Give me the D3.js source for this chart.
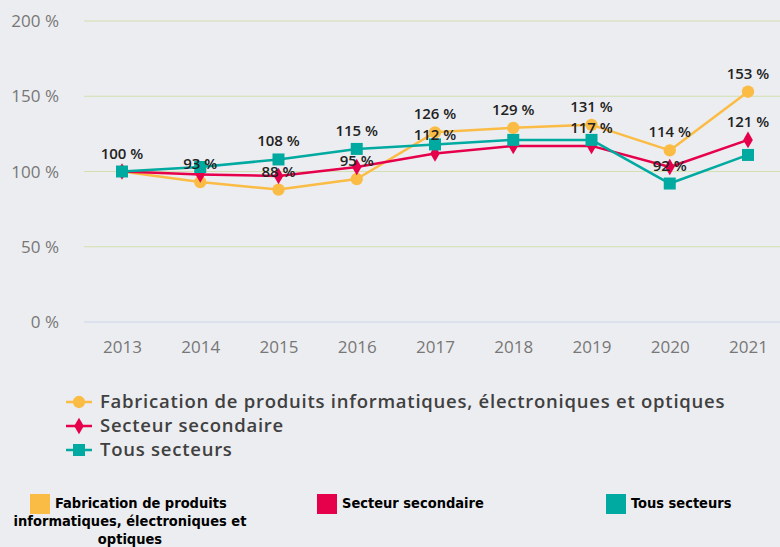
<!DOCTYPE html>
<html><head><meta charset="utf-8">
<script src="https://cdn.jsdelivr.net/npm/d3@7"></script>
<style>
html,body{margin:0;padding:0;background:#ecedf0;}
svg{display:block;}
</style></head>
<body>
<svg id="chart" width="780" height="547"></svg>
<script>
const years = ["2013","2014","2015","2016","2017","2018","2019","2020","2021"];
const seriesNames = ["Fabrication de produits informatiques, électroniques et optiques","Secteur secondaire","Tous secteurs"];
const fabrication = [100, 93, 88, 95, 126, 129, 131, 114, 153];
const secondaire  = [100, 98, 97, 103, 112, 117, 117, 103, 121];
const tous        = [100, 103, 108, 115, 118, 121, 121, 92, 111];
// data labels shown in the reference (null = hidden)
const fabricationLabels = [null, 93, 88, 95, 126, 129, 131, 114, 153];
const secondaireLabels  = [null, null, null, null, 112, null, 117, null, 121];
const tousLabels        = [100, null, 108, 115, null, null, null, 92, null];
const yTicks = [0, 50, 100, 150, 200];
const colors = ["#fbbc45", "#e6004c", "#00aaa1"];

const svg = d3.select("#chart");
const x = d3.scalePoint().domain(years).range([122, 748]);
const y = d3.scaleLinear().domain([0, 200]).range([322, 21]);

// grid
svg.append("g").selectAll("line").data(yTicks).join("line")
  .attr("x1", 84).attr("x2", 780)
  .attr("y1", d => y(d)).attr("y2", d => y(d))
  .attr("stroke", d => d === 0 ? "#ccd6eb" : "#d2e0b0").attr("stroke-width", 1.2);

// y labels
svg.append("g").selectAll("text").data(yTicks).join("text")
  .attr("x", 59).attr("y", d => y(d) + 6)
  .attr("text-anchor", "end")
  .attr("font-family", "Open Sans, sans-serif").attr("font-size", 17)
  .attr("fill", "#777")
  .text(d => d + " %");

// x axis labels
const xAxis = d3.axisBottom(x).tickSize(0).tickPadding(0);
const gx = svg.append("g").attr("transform", "translate(0,341)").call(xAxis);
gx.select(".domain").remove();
gx.selectAll("text").attr("font-family", "Open Sans, sans-serif").attr("font-size", 17)
  .attr("fill", "#777").attr("dy", "0.71em");

const series = [
  {name: seriesNames[0], values: fabrication, labels: fabricationLabels, color: colors[0], shape: d3.symbolCircle, size: 120},
  {name: seriesNames[1], values: secondaire, labels: secondaireLabels, color: colors[1], shape: d3.symbolDiamond, size: 80},
  {name: seriesNames[2], values: tous, labels: tousLabels, color: colors[2], shape: d3.symbolSquare, size: 144}
];

const line = d3.line().x((d, i) => x(years[i])).y(d => y(d));

series.forEach(s => {
  svg.append("path").datum(s.values).attr("d", line)
    .attr("fill", "none").attr("stroke", s.color).attr("stroke-width", 2.5)
    .attr("stroke-linejoin", "round");
  svg.append("g").selectAll("path").data(s.values).join("path")
    .attr("transform", (d, i) => `translate(${x(years[i])},${y(d)})`)
    .attr("d", d3.symbol().type(s.shape).size(s.size))
    .attr("fill", s.color);
});

series.forEach(s => {
  svg.append("g").selectAll("text")
    .data(s.values.map((v, i) => ({v, i, l: s.labels[i]})).filter(d => d.l !== null))
    .join("text")
    .attr("x", d => x(years[d.i]))
    .attr("y", d => y(d.v) - 13)
    .attr("text-anchor", "middle")
    .attr("font-family", "Open Sans, sans-serif").attr("font-size", 15).attr("font-weight", 600)
    .attr("fill", "#222")
    .text(d => d.l + " %");
});

// top legend
const lg = svg.append("g");
series.forEach((s, k) => {
  const cy = 402 + k * 24;
  lg.append("line").attr("x1", 66).attr("x2", 92).attr("y1", cy).attr("y2", cy)
    .attr("stroke", s.color).attr("stroke-width", 2.5);
  lg.append("path").attr("transform", `translate(79,${cy})`)
    .attr("d", d3.symbol().type(s.shape).size(s.size)).attr("fill", s.color);
  lg.append("text").attr("x", 100).attr("y", cy + 6)
    .attr("font-family", "Open Sans, sans-serif").attr("font-size", 18.5).attr("font-weight", 600)
    .attr("letter-spacing", 0.75)
    .attr("fill", "#404040").text(s.name);
});

// bottom legend
const bl = svg.append("g").attr("font-family", "DejaVu Sans Condensed, DejaVu Sans, sans-serif")
  .attr("font-weight", "bold").attr("font-size", 14.5).attr("fill", "#000");
const bItems = [
  {sq: 30, lines: [{t: "Fabrication de produits", x: 55, a: "start"}, {t: "informatiques, électroniques et", x: 130, a: "middle"}, {t: "optiques", x: 130, a: "middle"}]},
  {sq: 317, lines: [{t: seriesNames[1], x: 342, a: "start"}]},
  {sq: 606, lines: [{t: seriesNames[2], x: 631, a: "start"}]}
];
bItems.forEach((b, k) => {
  bl.append("rect").attr("x", b.sq).attr("y", 494).attr("width", 20).attr("height", 20).attr("fill", colors[k]);
  b.lines.forEach((ln, j) => {
    bl.append("text").attr("x", ln.x).attr("y", 508 + j * 18).attr("text-anchor", ln.a).text(ln.t);
  });
});
</script>
</body></html>
